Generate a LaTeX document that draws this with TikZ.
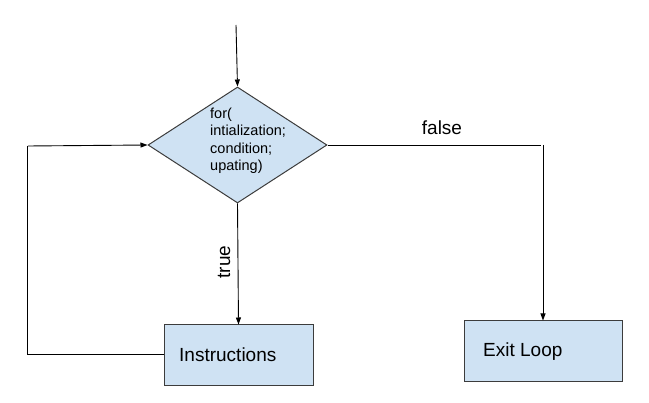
\documentclass[tikz,border=0pt]{standalone}
\usepackage{fontspec}
\setmainfont{Liberation Sans}
\usetikzlibrary{shapes.geometric,arrows.meta}
\definecolor{boxfill}{HTML}{CFE2F3}
\definecolor{edge}{HTML}{3C3C3C}
\tikzset{
  proc/.style={draw=edge, line width=1pt, fill=boxfill, minimum width=#1, minimum height=61pt, inner sep=0pt},
  conn/.style={draw=black, line width=0.9pt},
  arr/.style={conn, -{Triangle[length=7pt,width=5pt]}},
  lbl/.style={font=\fontsize{19}{22}\selectfont}
}
\begin{document}
\begin{tikzpicture}[x=1pt,y=-1pt]
\useasboundingbox (0,0) rectangle (649,403);
% diamond
\node[name=dia, draw=edge, line width=1pt, fill=boxfill, diamond, minimum width=179pt, minimum height=116pt, inner sep=0pt, aspect=1.54] at (237.5,145) {};
\node[anchor=north west, align=left, inner sep=0pt, font=\fontsize{14.5}{17.2}\selectfont] (dtext) at (210,108) {for(\\intialization;\\condition;\\upating)};
% boxes
\node[proc=149pt] (ins) at (238.5,355.5) {};
\node[lbl, anchor=west, inner sep=0pt] (instext) at (179,355) {Instructions};
\node[proc=158pt] (exit) at (543,351.5) {};
\node[lbl, anchor=west, inner sep=0pt] (exittext) at (483,352) {Exit Loop};
% coordinates
\coordinate (start) at (236,25);
\coordinate (fr) at (541,145);
\coordinate (fv) at (543,145);
\coordinate (lb) at (27,354);
\coordinate (lt) at (27,146);
\coordinate (ltt) at (28,146);
% connectors
\draw[arr] (start) -- (dia.north);
\draw[arr] (dia.south) -- (ins.north);
\draw[conn] (dia.east) -- (fr);
\draw[arr] (fv) -- (exit.north -| fv);
\draw[conn] (ins.west |- lb) -- (lb) -- (lt);
\draw[arr] (ltt) -- (dia.west);
% labels
\node[lbl, rotate=90, inner sep=0pt] (truelbl) at (224,262) {true};
\node[lbl, inner sep=0pt] (falselbl) at (442,128) {false};
\end{tikzpicture}
\end{document}
